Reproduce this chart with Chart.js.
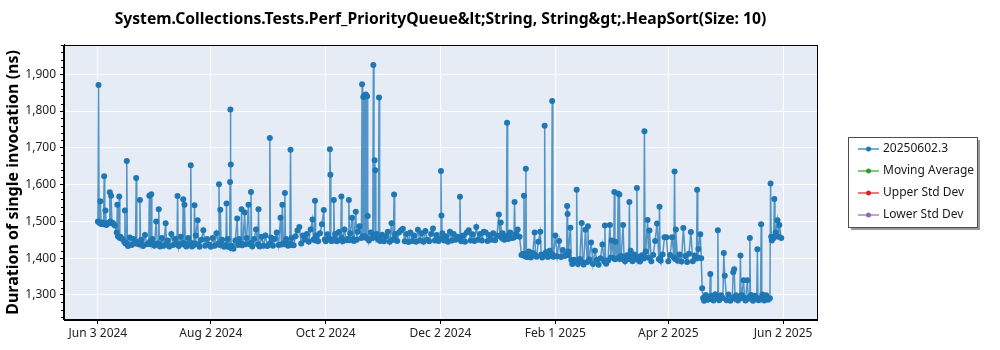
<!DOCTYPE html>
<html>
<head>
<meta charset="utf-8">
<script src="https://cdn.jsdelivr.net/npm/chart.js@4.4.1/dist/chart.umd.min.js"></script>
<style>
  html, body { margin: 0; padding: 0; background: #fff; }
</style>
</head>
<body>
<canvas id="perfchart" width="1000" height="350"></canvas>
<script>
// one entry per day, each month array starts at the date in monthStarts.
// an inner list holds several runs of the same day, in order.
var jun24 = [[1500, 1871, 1497], [1496, 1555, 1493], 1497, [1492, 1623, 1495], [1530, 1490], 1493, [1497, 1579, 1500], [1570, 1494], 1496, 1489,
             [1470, 1545, 1460], [1458, 1568, 1455], 1458, 1452, [1445, 1530, 1440], [1442, 1664, 1438], 1433, 1456, 1436, 1452,
             [1440, 1618, 1444], 1440, [1437, 1558, 1441], 1450, 1433, 1463, 1438, [1440, 1570, 1445]];
var jul24 = [[1438, 1574, 1442], 1452, 1434, [1500, 1440], [1437, 1533, 1439], 1432, 1455, 1434, [1495, 1438], 1448,
             1432, 1466, 1436, 1453, [1440, 1569, 1436], 1433, 1458, [1441, 1560, 1437], [1545, 1440], 1432,
             1455, [1438, 1653, 1441], 1432, [1436, 1544, 1440], 1462, [1503, 1437], 1431, 1450, 1476, 1434, 1452];
var aug24 = [1437, 1431, 1455, 1434, 1468, [1440, 1601, 1436], [1532, 1438], 1450, 1431, [1436, 1549, 1432],
             1452, [1430, 1607, 1804, 1655, 1428], 1434, 1426, 1448, [1508, 1436], 1452, [1439, 1533, 1435], 1438, [1524, 1438],
             1455, [1545, 1440], [1437, 1580, 1441], 1432, 1452, 1478, [1438, 1533, 1434], 1432, 1458, 1434, 1462];
var sep24 = [1433, [1437, 1727, 1441], 1456, 1434, 1452, 1470, 1436, [1510, 1437], [1545, 1440], [1438, 1577, 1442],
             1452, 1434, [1440, 1695, 1436], 1455, 1435, 1460, 1475, 1485, 1440, 1462,
             1450, 1466, 1445, 1478, [1505, 1450], [1452, 1556, 1448], 1462, 1446, 1468, 1492];
var oct24 = [[1531, 1451], 1446, 1465, [1452, 1696, 1627, 1450], 1447, [1448, 1558, 1453], 1466, 1446, 1471, [1450, 1568, 1455],
             1446, 1478, 1449, [1453, 1558, 1449], 1468, [1510, 1452], 1447, [1526, 1450], 1472, 1487,
             [1455, 1873, 1460], [1838, 1458, 1842], [1460, 1845, 1455], [1840, 1515, 1452], 1448, 1470, [1455, 1925, 1460], [1666, 1639, 1458], 1466, [1450, 1837, 1455], 1447];
var nov24 = [1464, 1446, 1458, 1472, 1445, [1495, 1450], [1451, 1573, 1455], 1466, 1447, 1470,
             1476, 1480, 1446, 1466, 1444, 1470, 1447, 1462, 1445, 1477,
             1448, 1468, 1445, 1474, 1450, 1446, 1466, 1481, 1448, 1463];
var dec24 = [1447, [1452, 1637, 1516, 1455], 1468, 1448, 1460, 1445, 1472, 1448, 1466, 1450,
             1458, [1455, 1567, 1450], 1446, 1462, 1445, 1470, 1476, 1448, 1465, 1447,
             1485, 1450, 1466, 1448, 1472, 1470, 1447, 1463, 1450, 1468, 1449];
var jan25 = [1462, [1519, 1460], [1497, 1455], 1468, 1450, [1458, 1768, 1461], 1452, 1470, 1455, [1456, 1553, 1460],
             1466, 1478, 1458, 1409, [1412, 1570, 1406], [1410, 1643, 1404], 1403, 1418, 1402, 1414,
             [1470, 1408], 1404, 1445, [1472, 1410], 1402, [1407, 1760, 1412], 1416, 1403, 1420, [1406, 1827, 1410], 1404];
var feb25 = [1462, 1405, 1447, 1403, 1422, 1406, [1410, 1542, 1520, 1408], 1418, [1483, 1395], 1384,
             1396, [1392, 1586, 1389], 1384, 1398, [1496, 1388], 1383, 1477, [1390, 1487, 1392], 1397, 1443,
             1384, 1420, 1396, 1382, 1400, 1437, [1391, 1489, 1394], 1385];
var mar25 = [1394, [1490, 1402], 1448, [1400, 1580, 1397], 1445, [1399, 1576, 1402], [1573, 1398], 1406, [1490, 1401], 1392,
             1408, [1398, 1553, 1404], 1420, 1392, 1410, [1400, 1591, 1396], 1404, 1391, 1408, [1399, 1745, 1403],
             1418, [1504, 1401], 1475, 1392, 1409, 1447, 1494, [1397, 1540, 1400], 1393, 1410, 1457];
var apr25 = [1457, 1392, 1409, 1457, [1402, 1636, 1398], 1478, 1393, 1410, 1391, 1482,
             1406, 1390, 1412, 1471, 1392, 1407, [1399, 1586, 1402], 1425, [1465, 1400], [1318, 1292],
             1284, 1300, 1287, [1291, 1357, 1289], 1298, 1285, 1302, [1292, 1476, 1290], 1286, 1299];
var may25 = [[1292, 1414], 1352, 1286, 1301, 1284, [1292, 1362], [1370, 1290], 1299, 1285, [1293, 1407, 1291],
             1300, [1340, 1292], 1285, [1340, 1290], [1294, 1455, 1291], 1300, 1284, 1298, [1292, 1424, 1288], 1286,
             [1290, 1492, 1293], 1301, 1285, 1299, 1287, [1291, 1603, 1458], 1448, [1455, 1561, 1460], 1470, [1503, 1458], 1490];
var jun25 = [1455];

var monthStarts = ['2024-06-03', '2024-07-01', '2024-08-01', '2024-09-01', '2024-10-01', '2024-11-01',
                   '2024-12-01', '2025-01-01', '2025-02-01', '2025-03-01', '2025-04-01', '2025-05-01', '2025-06-01'];
var monthValues = [jun24, jul24, aug24, sep24, oct24, nov24, dec24, jan25, feb25, mar25, apr25, may25, jun25];

var tickDates = ['2024-06-03', '2024-08-02', '2024-10-02', '2024-12-02', '2025-02-01', '2025-04-02', '2025-06-02'];
var tickLabels = ['Jun 3 2024', 'Aug 2 2024', 'Oct 2 2024', 'Dec 2 2024', 'Feb 1 2025', 'Apr 2 2025', 'Jun 2 2025'];
var yTicks = [1300, 1400, 1500, 1600, 1700, 1800, 1900];

var seriesNames = ['20250602.3', 'Moving Average', 'Upper Std Dev', 'Lower Std Dev'];
var seriesColors = ['#1f77b4', '#2ca02c', '#d62728', '#9467bd'];

var DAY = 86400000;
function t(s) { return Date.parse(s + 'T00:00:00Z'); }

var points = [];
for (var m = 0; m < monthValues.length; m++) {
	var start = t(monthStarts[m]);
	for (var i = 0; i < monthValues[m].length; i++) {
		var runs = [].concat(monthValues[m][i]);
		for (var j = 0; j < runs.length; j++) {
			points.push({ x: start + i * DAY + j * DAY / runs.length, y: runs[j] });
		}
	}
}

var FONT = "'Noto Sans', 'Open Sans', sans-serif";

var plotDecor = {
	id: 'plotDecor',
	beforeDraw: function(chart) {
		var a = chart.chartArea, ctx = chart.ctx;
		ctx.save();
		ctx.fillStyle = '#ffffff';
		ctx.fillRect(0, 0, chart.width, chart.height);
		ctx.fillStyle = '#e5ecf6';
		ctx.fillRect(a.left, a.top, a.right - a.left, a.bottom - a.top);
		ctx.restore();
	},
	afterDraw: function(chart) {
		var a = chart.chartArea, ctx = chart.ctx;
		var ys = chart.scales.y;
		ctx.save();
		// frame round the plot
		ctx.strokeStyle = '#000';
		ctx.lineWidth = 1;
		ctx.strokeRect(Math.round(a.left) - 0.5, Math.round(a.top) + 0.5, Math.round(a.right - a.left) + 1, Math.round(a.bottom - a.top) - 1);
		// minor ticks every 20 on the y axis
		ctx.beginPath();
		for (var v = 1240; v <= 1980; v += 20) {
			if (v % 100 === 0) continue;
			var py = Math.round(ys.getPixelForValue(v)) + 0.5;
			if (py < a.top || py > a.bottom) continue;
			ctx.moveTo(a.left - 3, py);
			ctx.lineTo(a.left, py);
		}
		ctx.stroke();

		// legend box
		var lx = 848, ly = 137, lw = 129, lh = 90;
		ctx.fillStyle = '#9a9a9a';
		ctx.fillRect(lx + 3, ly + 3, lw, lh);
		ctx.fillStyle = '#ffffff';
		ctx.fillRect(lx, ly, lw, lh);
		ctx.strokeStyle = '#4d4d4d';
		ctx.strokeRect(lx + 0.5, ly + 0.5, lw, lh);
		ctx.font = '12px ' + FONT;
		ctx.textBaseline = 'middle';
		ctx.textAlign = 'left';
		for (var k = 0; k < chart.data.datasets.length; k++) {
			var ds = chart.data.datasets[k];
			var ry = ly + 12 + k * 22;
			ctx.strokeStyle = ds.pointBackgroundColor;
			ctx.globalAlpha = 0.8;
			ctx.lineWidth = 1.5;
			ctx.beginPath();
			ctx.moveTo(lx + 10, ry);
			ctx.lineTo(lx + 31, ry);
			ctx.stroke();
			ctx.globalAlpha = 1;
			ctx.fillStyle = ds.pointBackgroundColor;
			ctx.beginPath();
			ctx.arc(lx + 20.5, ry, 2.5, 0, Math.PI * 2);
			ctx.fill();
			ctx.fillStyle = '#1a1a1a';
			ctx.fillText(ds.label, lx + 35, ry);
		}
		ctx.restore();
	}
};

var datasets = [];
for (var s = 0; s < seriesNames.length; s++) {
	datasets.push({
		label: seriesNames[s],
		data: s === 0 ? points : [],
		borderColor: seriesColors[s],
		backgroundColor: seriesColors[s],
		pointBackgroundColor: seriesColors[s],
		borderWidth: 1.5,
		pointRadius: 3,
		pointBorderWidth: 0,
		pointHoverRadius: 3,
		tension: 0,
		fill: false
	});
}
datasets[0].borderColor = 'rgba(31, 119, 180, 0.75)';

var ctx = document.getElementById('perfchart');
var perfChart = new Chart(ctx, {
	type: 'line',
	data: { datasets: datasets },
	plugins: [plotDecor],
	options: {
		responsive: false,
		animation: false,
		events: [],
		layout: { padding: { left: 4, right: 183, top: 0, bottom: 4 } },
		plugins: {
			legend: { display: false },
			tooltip: { enabled: false },
			title: {
				display: true,
				fullSize: false,
				text: 'System.Collections.Tests.Perf_PriorityQueue&lt;String, String&gt;.HeapSort(Size: 10)',
				color: '#000',
				font: { family: FONT, size: 15.7, weight: 'bold' },
				padding: { top: 10, bottom: 16 }
			}
		},
		scales: {
			x: {
				type: 'linear',
				min: t('2024-05-16'),
				max: t('2025-06-20'),
				afterBuildTicks: function(scale) {
					scale.ticks = tickDates.map(function(d) { return { value: t(d) }; });
				},
				afterFit: function(scale) { scale.height = 26; },
				ticks: {
					color: '#222',
					font: { family: FONT, size: 12 },
					padding: 2,
					maxRotation: 0,
					autoSkip: false,
					callback: function(value) {
						var idx = tickDates.map(t).indexOf(value);
						return idx >= 0 ? tickLabels[idx] : '';
					}
				},
				grid: { color: '#ffffff', lineWidth: 1, tickColor: '#000', tickLength: 4 },
				border: { color: '#000', width: 1 }
			},
			y: {
				type: 'linear',
				min: 1232,
				max: 1980,
				afterBuildTicks: function(scale) {
					scale.ticks = yTicks.map(function(v) { return { value: v }; });
				},
				afterFit: function(scale) { scale.width = 60; },
				ticks: {
					color: '#222',
					font: { family: FONT, size: 12 },
					padding: 4,
					callback: function(value) { return value.toLocaleString('en-US'); }
				},
				grid: { color: '#ffffff', lineWidth: 1, tickColor: '#000', tickLength: 4 },
				border: { color: '#000', width: 1 },
				title: {
					display: true,
					text: 'Duration of single invocation (ns)',
					color: '#000',
					font: { family: FONT, size: 16, weight: 'bold' },
					padding: { top: 0, bottom: 0 }
				}
			}
		}
	}
});
</script>
</body>
</html>
